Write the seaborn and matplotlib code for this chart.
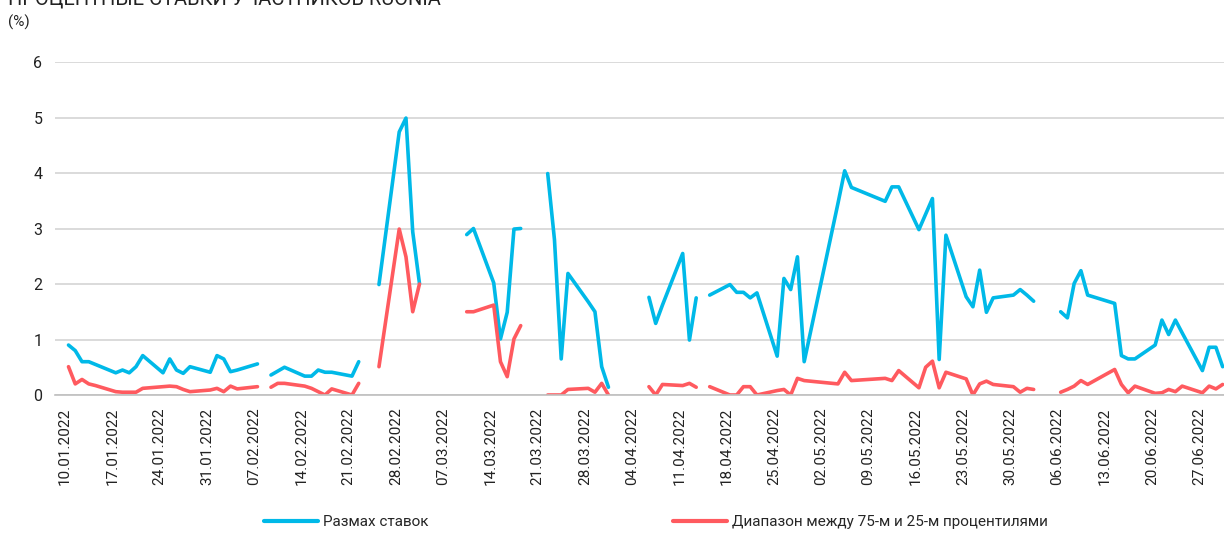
import matplotlib
matplotlib.use("Agg")
import matplotlib.pyplot as plt
import matplotlib.dates as mdates
import numpy as np
import pandas as pd
import seaborn as sns

# Data (None = no data, the line breaks there)
dates = [
    "10.01.2022", "11.01.2022", "12.01.2022", "13.01.2022", "14.01.2022",
    "17.01.2022", "18.01.2022", "19.01.2022", "20.01.2022", "21.01.2022",
    "24.01.2022", "25.01.2022", "26.01.2022", "27.01.2022", "28.01.2022",
    "31.01.2022", "01.02.2022", "02.02.2022", "03.02.2022", "04.02.2022",
    "07.02.2022", "08.02.2022", "09.02.2022", "10.02.2022", "11.02.2022",
    "14.02.2022", "15.02.2022", "16.02.2022", "17.02.2022", "18.02.2022",
    "21.02.2022", "22.02.2022", "24.02.2022", "25.02.2022", "28.02.2022",
    "01.03.2022", "02.03.2022", "03.03.2022", "04.03.2022", "10.03.2022",
    "11.03.2022", "14.03.2022", "15.03.2022", "16.03.2022", "17.03.2022",
    "18.03.2022", "21.03.2022", "22.03.2022", "23.03.2022", "24.03.2022",
    "25.03.2022", "28.03.2022", "29.03.2022", "30.03.2022", "31.03.2022",
    "01.04.2022", "06.04.2022", "07.04.2022", "08.04.2022", "11.04.2022",
    "12.04.2022", "13.04.2022", "14.04.2022", "15.04.2022", "18.04.2022",
    "19.04.2022", "20.04.2022", "21.04.2022", "22.04.2022", "25.04.2022",
    "26.04.2022", "27.04.2022", "28.04.2022", "29.04.2022", "04.05.2022",
    "05.05.2022", "06.05.2022", "11.05.2022", "12.05.2022", "13.05.2022",
    "16.05.2022", "17.05.2022", "18.05.2022", "19.05.2022", "20.05.2022",
    "23.05.2022", "24.05.2022", "25.05.2022", "26.05.2022", "27.05.2022",
    "30.05.2022", "31.05.2022", "01.06.2022", "02.06.2022", "03.06.2022",
    "06.06.2022", "07.06.2022", "08.06.2022", "09.06.2022", "10.06.2022",
    "14.06.2022", "15.06.2022", "16.06.2022", "17.06.2022", "20.06.2022",
    "21.06.2022", "22.06.2022", "23.06.2022", "24.06.2022", "27.06.2022",
    "28.06.2022", "29.06.2022", "30.06.2022",
]

rate_spread = [
    0.90, 0.80, 0.60, 0.60, 0.55,
    0.40, 0.45, 0.40, 0.51, 0.71,
    0.40, 0.65, 0.45, 0.39, 0.51,
    0.41, 0.71, 0.65, 0.42, 0.45,
    0.56, None, 0.36, 0.43, 0.50,
    0.34, 0.34, 0.45, 0.41, 0.41,
    0.34, 0.60, None, 1.99, 4.74,
    4.99, 2.94, 2.01, None, 2.89,
    3.00, 2.02, 1.01, 1.49, 2.99,
    3.00, None, 3.99, 2.80, 0.65,
    2.19, 1.68, 1.50, 0.51, 0.14,
    None, 1.76, 1.29, 1.62, 2.55,
    0.99, 1.75, None, 1.80, 1.99,
    1.85, 1.85, 1.75, 1.84, 0.70,
    2.10, 1.90, 2.49, 0.60, 3.45,
    4.04, 3.74, 3.49, 3.75, 3.75,
    2.98, 3.26, 3.54, 0.64, 2.88,
    1.77, 1.59, 2.25, 1.49, 1.75,
    1.80, 1.90, 1.80, 1.69, None,
    1.50, 1.39, 2.01, 2.24, 1.80,
    1.65, 0.71, 0.65, 0.65, 0.90,
    1.35, 1.09, 1.35, 1.12, 0.44,
    0.86, 0.86, 0.51,
]

iqr_range = [
    0.51, 0.20, 0.28, 0.20, 0.17,
    0.06, 0.05, 0.05, 0.05, 0.12,
    0.15, 0.16, 0.15, 0.10, 0.06,
    0.09, 0.12, 0.06, 0.16, 0.11,
    0.15, None, 0.14, 0.21, 0.21,
    0.16, 0.12, 0.06, 0.00, 0.11,
    0.00, 0.21, None, 0.51, 2.99,
    2.49, 1.50, 2.00, None, 1.50,
    1.50, 1.62, 0.60, 0.33, 1.01,
    1.25, None, 0.00, 0.00, 0.00,
    0.10, 0.12, 0.05, 0.21, 0.00,
    None, 0.15, 0.00, 0.19, 0.17,
    0.21, 0.14, None, 0.15, 0.00,
    0.00, 0.15, 0.15, 0.00, 0.08,
    0.10, 0.00, 0.30, 0.26, 0.20,
    0.41, 0.26, 0.30, 0.26, 0.44,
    0.13, 0.50, 0.61, 0.13, 0.41,
    0.29, 0.00, 0.20, 0.25, 0.19,
    0.15, 0.05, 0.12, 0.10, None,
    0.05, 0.10, 0.16, 0.26, 0.19,
    0.46, 0.19, 0.04, 0.16, 0.03,
    0.04, 0.10, 0.06, 0.16, 0.04,
    0.16, 0.11, 0.19,
]

series_names = ["Размах ставок", "Диапазон между 75-м и 25-м процентилями"]
series_colors = ["#00B9E8", "#FF5A5F"]

# Long format, one segment id per unbroken run so gaps stay open
frames = []
for name, vals in zip(series_names, [rate_spread, iqr_range]):
    part = pd.DataFrame({"date": pd.to_datetime(dates, format="%d.%m.%Y"),
                         "value": pd.to_numeric(pd.Series(vals), errors="coerce")})
    part["seg"] = part["value"].isna().cumsum()
    part["series"] = name
    frames.append(part.dropna())
df = pd.concat(frames, ignore_index=True)
# points sit in the middle of the day, as on a date axis
df["date"] = df["date"] + pd.Timedelta(hours=12)

sns.set_theme(style="white")
plt.rcParams["font.family"] = ["Roboto", "DejaVu Sans"]

fig = plt.figure(figsize=(12.24, 5.34), dpi=100)
ax = fig.add_axes([55 / 1224, 139 / 534, 1 - 55 / 1224, 333 / 534])

sns.lineplot(data=df, x="date", y="value", hue="series", units="seg",
             estimator=None, palette=dict(zip(series_names, series_colors)),
             hue_order=series_names, linewidth=2.6, ax=ax, legend=False)

ax.set_ylim(0, 6)
ax.set_yticks(range(0, 7))
start = pd.Timestamp("2022-01-10")
ax.set_xlim(start - pd.Timedelta(hours=36), start + pd.Timedelta(days=171.7))
ax.set_xticks(pd.date_range("2022-01-10", "2022-06-27", freq="7D"))
ax.xaxis.set_major_formatter(mdates.DateFormatter("%d.%m.%Y"))
ax.tick_params(axis="x", rotation=90, labelsize=11, direction="inout",
               length=8, width=1, color="#bfbfbf", pad=5, labelcolor="#222222")
ax.tick_params(axis="y", length=0, labelsize=11.5, pad=9, labelcolor="#222222")
ax.set_xlabel("")
ax.set_ylabel("")
ax.grid(axis="y", color="#d4d4d4", linewidth=1.2)
for side in ["top", "right", "left"]:
    ax.spines[side].set_visible(False)
ax.spines["bottom"].set_color("#bfbfbf")
ax.spines["bottom"].set_linewidth(1.2)

fig.text(8 / 1224, 1 - 4 / 534, "ПРОЦЕНТНЫЕ СТАВКИ УЧАСТНИКОВ RUONIA",
         fontsize=14.5, va="baseline", ha="left", color="#222222")
fig.text(8 / 1224, 1 - 22 / 534, "(%)", fontsize=11, va="center",
         ha="left", color="#222222")

handles = [plt.Line2D([], [], color=c, linewidth=3) for c in series_colors]
fig.legend(handles, series_names, loc="center", ncol=2,
           bbox_to_anchor=(0.536, 1 - 522 / 534), frameon=False,
           fontsize=11, handlelength=3.5, handletextpad=0.35,
           columnspacing=16)

fig.savefig("out.png", dpi=100)
